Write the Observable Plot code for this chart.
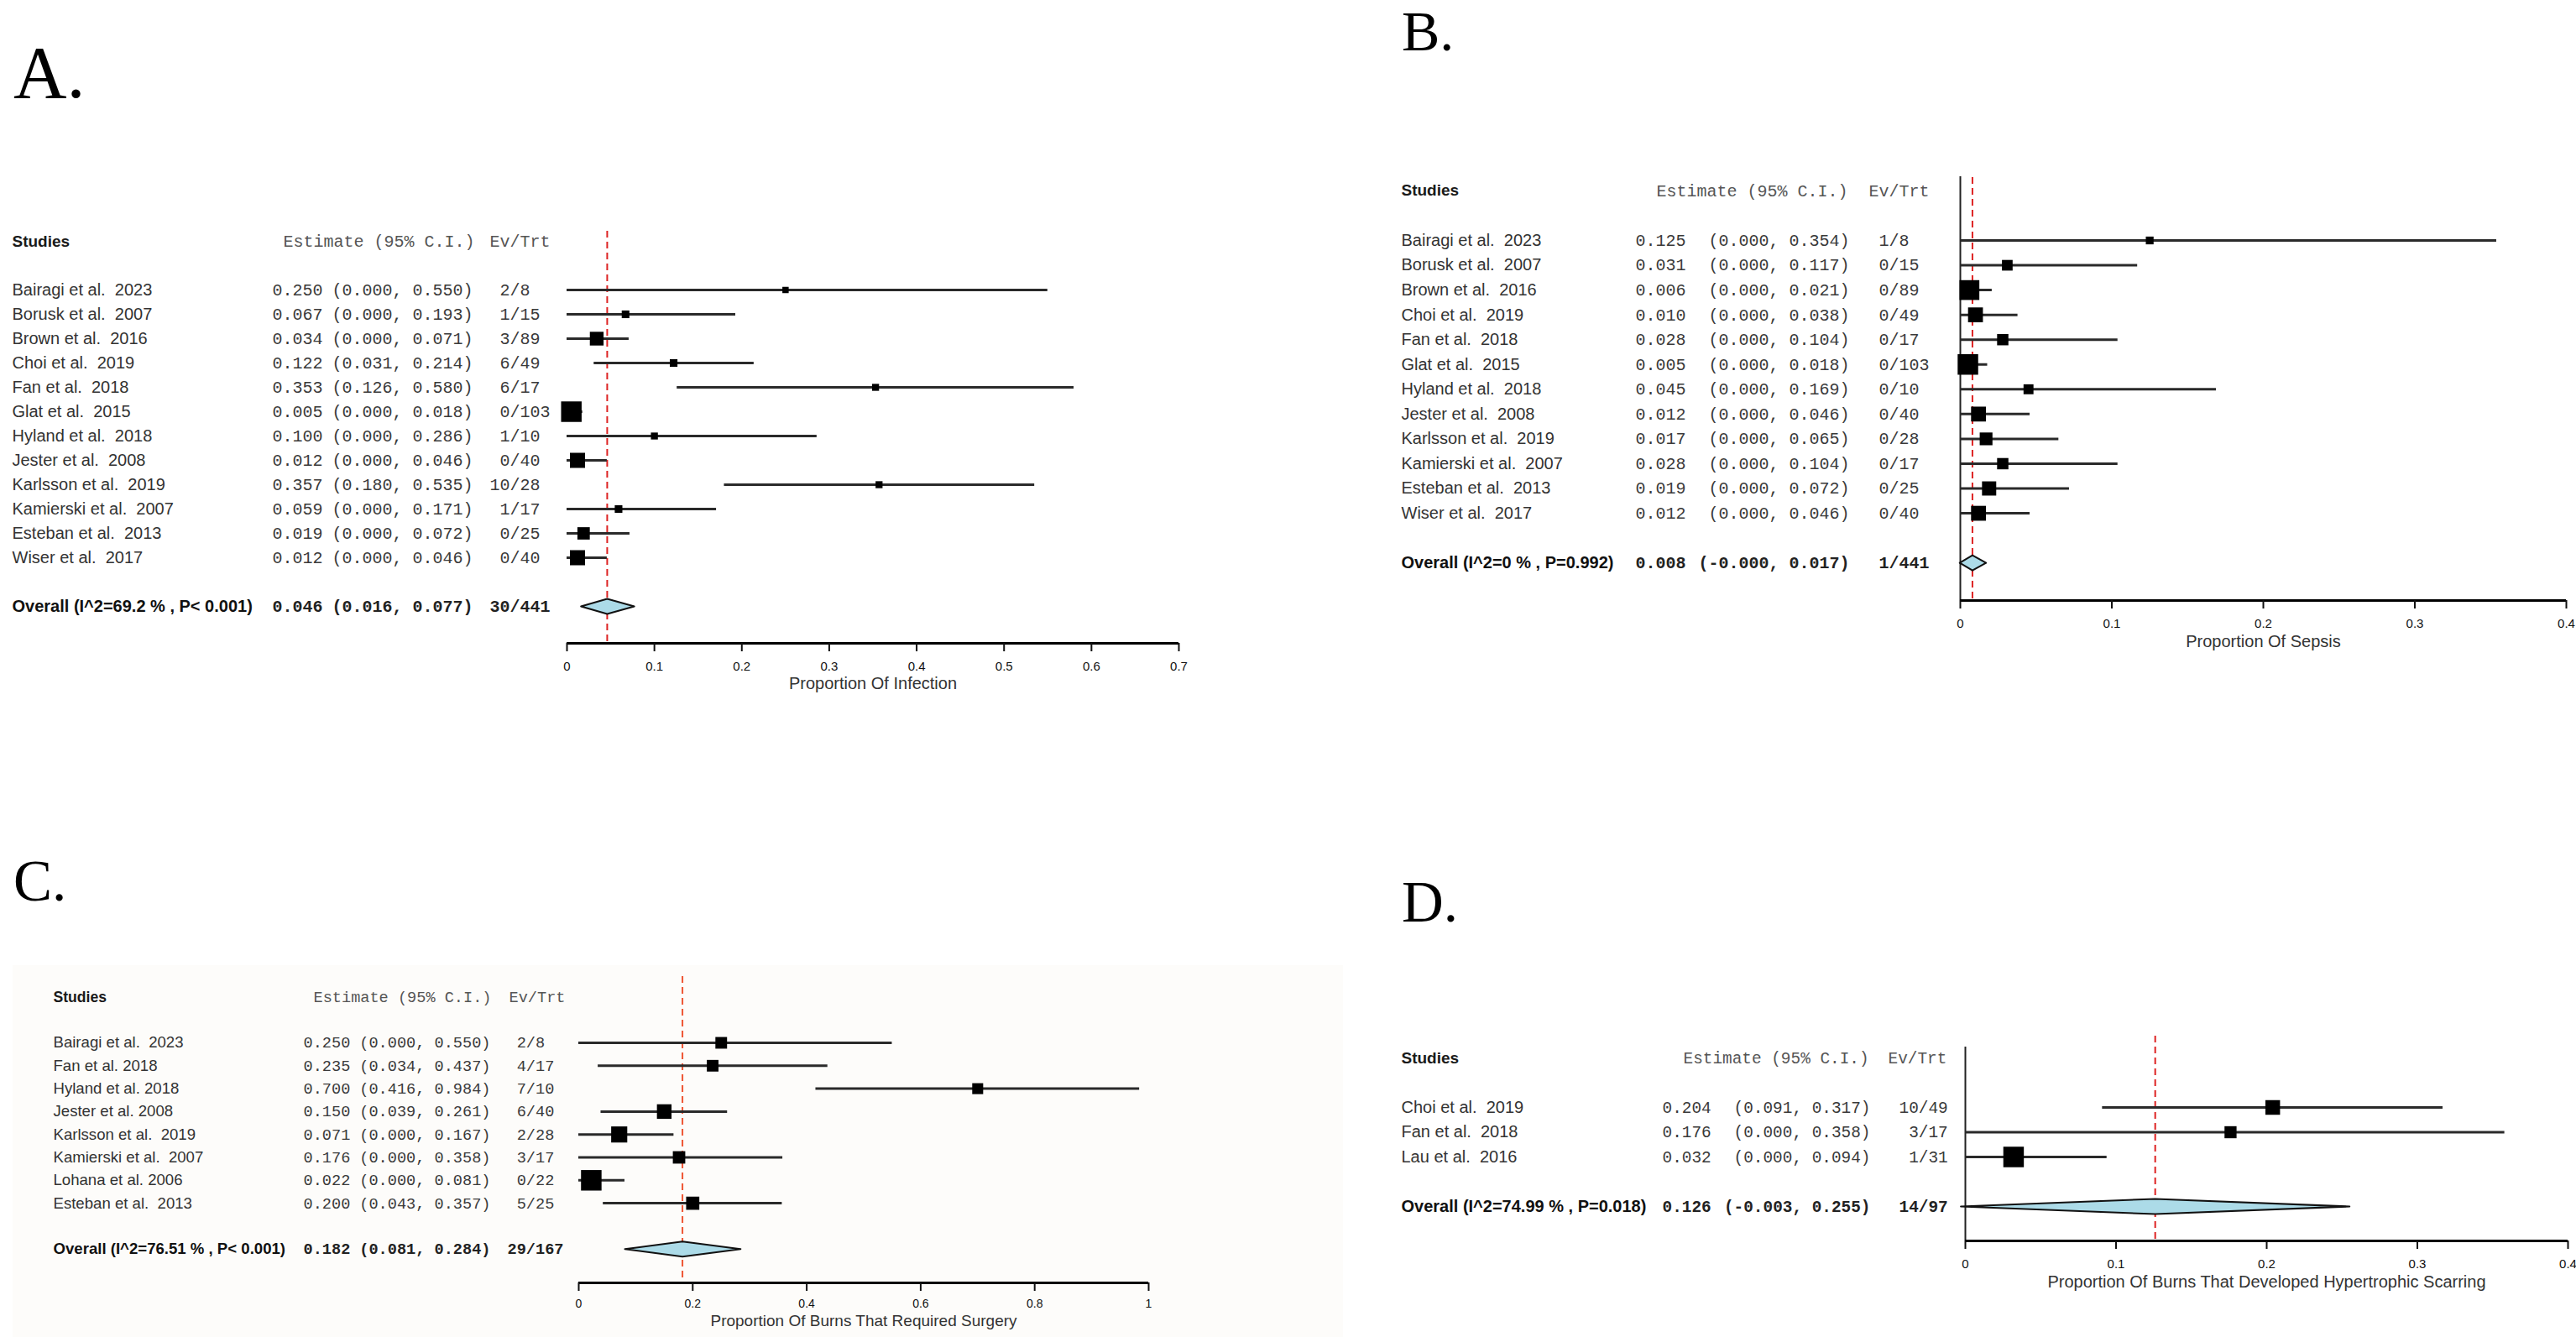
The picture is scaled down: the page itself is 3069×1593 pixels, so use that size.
<!DOCTYPE html>
<html>
<head>
<meta charset="utf-8">
<script src="https://cdn.jsdelivr.net/npm/d3@7"></script>
<script src="https://cdn.jsdelivr.net/npm/@observablehq/plot@0.6"></script>
<style>
  html, body { margin: 0; padding: 0; background: #ffffff; }
  #page { position: relative; width: 3069px; height: 1593px; background: #ffffff; overflow: hidden; }
  .lbl { position: absolute; font-family: 'Liberation Serif', 'Times New Roman', serif; line-height: 1; color: #000; white-space: nowrap; }
  .pane { position: absolute; }
  .cream { position: absolute; background: #fdfcfa; }
</style>
</head>
<body>
<div id="page"></div>
<script>
// ---------------- DATA ----------------
// A. Infection
const namesA = ["Bairagi et al.  2023","Borusk et al.  2007","Brown et al.  2016","Choi et al.  2019","Fan et al.  2018","Glat et al.  2015","Hyland et al.  2018","Jester et al.  2008","Karlsson et al.  2019","Kamierski et al.  2007","Esteban et al.  2013","Wiser et al.  2017"];
const estA = [0.250,0.067,0.034,0.122,0.353,0.005,0.100,0.012,0.357,0.059,0.019,0.012];
const loA  = [0.000,0.000,0.000,0.031,0.126,0.000,0.000,0.000,0.180,0.000,0.000,0.000];
const hiA  = [0.550,0.193,0.071,0.214,0.580,0.018,0.286,0.046,0.535,0.171,0.072,0.046];
const evA  = [2,1,3,6,6,0,1,0,10,1,0,0];
const totA = [8,15,89,49,17,103,10,40,28,17,25,40];
const wA   = [0.9,2.0,12.5,2.0,1.4,34.8,1.4,16.1,1.4,2.0,9.4,16.1];
const overallA = {label: "Overall (I^2=69.2 % , P< 0.001)", est: 0.046, lo: 0.016, hi: 0.077, ev: 30, tot: 441};
const ticksA = [0,0.1,0.2,0.3,0.4,0.5,0.6,0.7];
const titleA = "Proportion Of Infection";

// B. Sepsis
const namesB = ["Bairagi et al.  2023","Borusk et al.  2007","Brown et al.  2016","Choi et al.  2019","Fan et al.  2018","Glat et al.  2015","Hyland et al.  2018","Jester et al.  2008","Karlsson et al.  2019","Kamierski et al.  2007","Esteban et al.  2013","Wiser et al.  2017"];
const estB = [0.125,0.031,0.006,0.010,0.028,0.005,0.045,0.012,0.017,0.028,0.019,0.012];
const loB  = [0,0,0,0,0,0,0,0,0,0,0,0];
const hiB  = [0.354,0.117,0.021,0.038,0.104,0.018,0.169,0.046,0.065,0.104,0.072,0.046];
const evB  = [1,0,0,0,0,0,0,0,0,0,0,0];
const totB = [8,15,89,49,17,103,10,40,28,17,25,40];
const wB   = [1.3,3.7,19.4,9.4,4.4,21.1,3.0,9.4,6.2,4.4,8.3,9.4];
const overallB = {label: "Overall (I^2=0 % , P=0.992)", est: 0.008, lo: -0.0004, hi: 0.017, ev: 1, tot: 441};
const ticksB = [0,0.1,0.2,0.3,0.4];
const titleB = "Proportion Of Sepsis";

// C. Surgery
const namesC = ["Bairagi et al.  2023","Fan et al. 2018","Hyland et al. 2018","Jester et al. 2008","Karlsson et al.  2019","Kamierski et al.  2007","Lohana et al. 2006","Esteban et al.  2013"];
const estC = [0.250,0.235,0.700,0.150,0.071,0.176,0.022,0.200];
const loC  = [0.000,0.034,0.416,0.039,0.000,0.000,0.000,0.043];
const hiC  = [0.550,0.437,0.984,0.261,0.167,0.358,0.081,0.357];
const evC  = [2,4,7,6,2,3,0,5];
const totC = [8,17,10,40,28,17,22,25];
const wC   = [7.1,7.1,5.9,13.2,17.0,8.5,31.2,10.0];
const overallC = {label: "Overall (I^2=76.51 % , P< 0.001)", est: 0.182, lo: 0.081, hi: 0.284, ev: 29, tot: 167};
const ticksC = [0,0.2,0.4,0.6,0.8,1];
const titleC = "Proportion Of Burns That Required Surgery";

// D. Hypertrophic scarring
const namesD = ["Choi et al.  2019","Fan et al.  2018","Lau et al.  2016"];
const estD = [0.204,0.176,0.032];
const loD  = [0.091,0.000,0.000];
const hiD  = [0.317,0.358,0.094];
const evD  = [10,3,1];
const totD = [49,17,31];
const wD   = [25.5,14.9,59.6];
const overallD = {label: "Overall (I^2=74.99 % , P=0.018)", est: 0.126, lo: -0.003, hi: 0.255, ev: 14, tot: 97};
const ticksD = [0,0.1,0.2,0.3,0.4];
const titleD = "Proportion Of Burns That Developed Hypertrophic Scarring";

const headers = {studies: "Studies", estimate: "Estimate (95% C.I.)", ev: "Ev/Trt"};

// ---------------- DRAWING ----------------
const page = document.getElementById("page");
const SANS = "'Liberation Sans', Arial, Helvetica, sans-serif";
const MONO = "'Liberation Mono', 'Courier New', monospace";
const NB = "\u00a0";

function label(text, left, top, size) {
  const d = document.createElement("div");
  d.className = "lbl";
  d.textContent = text;
  d.style.left = left + "px";
  d.style.top = top + "px";
  d.style.fontSize = size + "px";
  page.appendChild(d);
}

function forest(c) {
  const {left, top, W, H} = c.box;
  const rows = c.names.map((name, i) => ({
    i, name, est: c.est[i], lo: c.lo[i], hi: c.hi[i], ev: c.ev[i], tot: c.tot[i], w: c.w[i]
  }));
  const n = rows.length;
  const hdrRow = -2, ovRow = n + 1;
  const toRow = px => (px - c.row0) / c.step;
  const axisRow = toRow(c.axisPx);
  const ov = c.overall;
  const hh = 9 / c.step;
  const diamond = [
    {x: ov.lo, y: ovRow}, {x: ov.est, y: ovRow - hh}, {x: ov.hi, y: ovRow},
    {x: ov.est, y: ovRow + hh}, {x: ov.lo, y: ovRow}
  ];
  const x0 = c.x0;
  const fmtEv = (e, t) => String(e).padStart(2, NB) + "/" + t;
  const ciTxt = (lo, hi) => "(" + lo.toFixed(3) + ", " + hi.toFixed(3) + ")";
  const fs = c.fs, mfs = c.mfs;

  const marks = [];
  if (c.yLine) {
    marks.push(Plot.ruleX([0], {y1: toRow(c.yLineTop), y2: axisRow, stroke: "#222", strokeWidth: 2}));
  }
  marks.push(
    Plot.ruleX([ov.est], {stroke: c.red, strokeWidth: 2, strokeDasharray: "8,5"}),
    Plot.ruleY(rows, {y: "i", x1: "lo", x2: "hi", stroke: "#2a2a2a", strokeWidth: 3}),
    Plot.dot(rows, {x: "est", y: "i", r: "w", symbol: "square", fill: "#000"}),
    Plot.line(diamond, {x: "x", y: "y", fill: "#acdbe8", stroke: "#111", strokeWidth: 2}),
    Plot.ruleY([axisRow], {stroke: "#000", strokeWidth: 3}),
    Plot.axisX({ticks: c.ticks, tickSize: 10, tickPadding: c.tickPad, fontSize: c.tfs, color: "#111", strokeWidth: 2, label: null, tickFormat: d => String(d)}),
    Plot.text([c.title], {text: d => d, frameAnchor: "bottom", lineAnchor: "middle", dy: c.titleDy, fontSize: c.afs, fill: "#333"}),
    // header row
    Plot.text([headers.studies], {text: d => d, y: hdrRow, frameAnchor: "left", dx: c.hx.studies - x0, textAnchor: "start", fontSize: fs - 1, fontWeight: "bold", fill: "#1a1a1a"}),
    Plot.text([headers.estimate], {text: d => d, y: hdrRow, frameAnchor: "left", dx: c.hx.estimate - x0, textAnchor: "start", fontSize: mfs, fontFamily: MONO, fill: "#555"}),
    Plot.text([headers.ev], {text: d => d, y: hdrRow, frameAnchor: "left", dx: c.hx.ev - x0, textAnchor: "start", fontSize: mfs, fontFamily: MONO, fill: "#555"}),
    // study rows
    Plot.text(rows, {text: "name", y: "i", frameAnchor: "left", dx: c.nameX - x0, textAnchor: "start", fontSize: fs, fill: "#333"}),
    Plot.text(rows, {text: d => d.est.toFixed(3), y: "i", frameAnchor: "left", dx: c.estX - x0, textAnchor: "start", fontSize: mfs, fontFamily: MONO, fill: "#3a3a3a"}),
    Plot.text(rows, {text: d => ciTxt(d.lo, d.hi), y: "i", frameAnchor: "left", dx: c.ciEnd - x0, textAnchor: "end", fontSize: mfs, fontFamily: MONO, fill: "#3a3a3a"}),
    Plot.text(rows, {text: d => fmtEv(d.ev, d.tot), y: "i", frameAnchor: "left", dx: c.evX - x0, textAnchor: "start", fontSize: mfs, fontFamily: MONO, fill: "#3a3a3a"}),
    // overall row
    Plot.text([ov], {text: "label", y: ovRow, frameAnchor: "left", dx: c.nameX - x0, textAnchor: "start", fontSize: fs, fontWeight: "bold", fill: "#111"}),
    Plot.text([ov], {text: d => d.est.toFixed(3), y: ovRow, frameAnchor: "left", dx: c.estX - x0, textAnchor: "start", fontSize: mfs, fontFamily: MONO, fontWeight: "bold", fill: "#222"}),
    Plot.text([ov], {text: d => ciTxt(d.lo, d.hi), y: ovRow, frameAnchor: "left", dx: c.ciEnd - x0, textAnchor: "end", fontSize: mfs, fontFamily: MONO, fontWeight: "bold", fill: "#222"}),
    Plot.text([ov], {text: d => fmtEv(d.ev, d.tot), y: ovRow, frameAnchor: "left", dx: c.evX - x0, textAnchor: "start", fontSize: mfs, fontFamily: MONO, fontWeight: "bold", fill: "#222"})
  );

  const svg = Plot.plot({
    width: W, height: H,
    marginLeft: c.x0 - left, marginRight: left + W - c.x1,
    marginTop: c.frameTop - top, marginBottom: top + H - c.axisPx,
    style: "font-family: " + SANS + "; background: transparent; overflow: visible; white-space: pre;",
    x: {domain: c.xdomain},
    y: {domain: [0, 1], range: [c.row0 - top, c.row0 - top + c.step], axis: null},
    r: {type: "sqrt", domain: [0, d3.max(c.w)], range: [2.4, 13.8]},
    marks
  });
  const holder = document.createElement("div");
  holder.className = "pane";
  holder.style.left = left + "px";
  holder.style.top = top + "px";
  holder.style.width = W + "px";
  holder.style.height = H + "px";
  holder.appendChild(svg);
  page.appendChild(holder);
}

// faint cream background of panel C
const cream = document.createElement("div");
cream.className = "cream";
Object.assign(cream.style, {left: "15px", top: "1150px", width: "1585px", height: "443px"});
page.appendChild(cream);

label("A.", 16, 43, 88);
label("B.", 1670, 3, 68);
label("C.", 16, 1016, 69);
label("D.", 1670, 1041, 69);

forest({
  box: {left: 0, top: 200, W: 1460, H: 650},
  names: namesA, est: estA, lo: loA, hi: hiA, ev: evA, tot: totA, w: wA, overall: overallA,
  ticks: ticksA, title: titleA, xdomain: [0, 0.7],
  x0: 675, x1: 1404, row0: 345, step: 29, frameTop: 275, axisPx: 766,
  nameX: 14, estX: 324, ciEnd: 563, evX: 583,
  hx: {studies: 14, estimate: 337, ev: 583},
  fs: 20, mfs: 20, tfs: 15, afs: 20, tickPad: 12, titleDy: 48,
  red: "#dd2222", yLine: false
});

forest({
  box: {left: 1640, top: 150, W: 1429, H: 650},
  names: namesB, est: estB, lo: loB, hi: hiB, ev: evB, tot: totB, w: wB, overall: overallB,
  ticks: ticksB, title: titleB, xdomain: [0, 0.4],
  x0: 2335, x1: 3057, row0: 286, step: 29.55, frameTop: 211, axisPx: 715,
  nameX: 1669, estX: 1948, ciEnd: 2203, evX: 2226,
  hx: {studies: 1669, estimate: 1973, ev: 2226},
  fs: 20, mfs: 20, tfs: 15, afs: 20, tickPad: 12, titleDy: 49,
  red: "#dd2222", yLine: true, yLineTop: 210
});

forest({
  box: {left: 0, top: 1100, W: 1460, H: 493},
  names: namesC, est: estC, lo: loC, hi: hiC, ev: evC, tot: totC, w: wC, overall: overallC,
  ticks: ticksC, title: titleC, xdomain: [0, 1],
  x0: 689, x1: 1368, row0: 1242, step: 27.3, frameTop: 1163, axisPx: 1528,
  nameX: 63, estX: 361, ciEnd: 584, evX: 604,
  hx: {studies: 63, estimate: 373, ev: 606},
  fs: 18.6, mfs: 18.6, tfs: 14, afs: 19, tickPad: 10, titleDy: 45,
  red: "#ee5533", yLine: false
});

forest({
  box: {left: 1640, top: 1150, W: 1429, H: 443},
  names: namesD, est: estD, lo: loD, hi: hiD, ev: evD, tot: totD, w: wD, overall: overallD,
  ticks: ticksD, title: titleD, xdomain: [0, 0.4],
  x0: 2341, x1: 3059, row0: 1319, step: 29.5, frameTop: 1234, axisPx: 1478,
  nameX: 1669, estX: 1980, ciEnd: 2228, evX: 2262,
  hx: {studies: 1669, estimate: 2005, ev: 2249},
  fs: 20, mfs: 19.4, tfs: 15, afs: 20, tickPad: 12, titleDy: 49,
  red: "#dd2222", yLine: true, yLineTop: 1247
});
</script>
</body>
</html>
